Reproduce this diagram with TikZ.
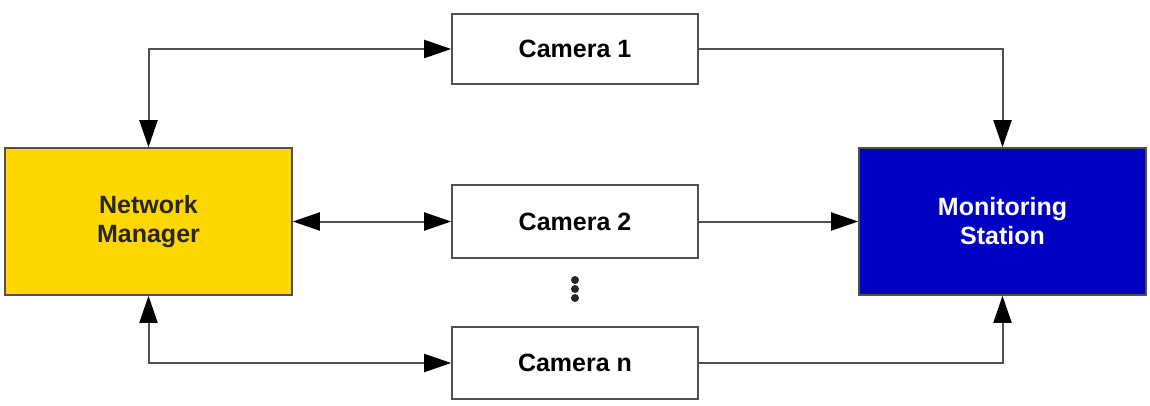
\documentclass[tikz,border=0pt]{standalone}
\usepackage{fontspec}
\setmainfont{Liberation Sans}
\usetikzlibrary{arrows.meta}
\definecolor{nmyellow}{HTML}{FFD700}
\definecolor{msblue}{HTML}{0000C4}
\definecolor{linegray}{HTML}{505050}
\tikzset{
  box/.style={draw=linegray, line width=1.6pt, minimum width=246pt, align=center,
    font=\fontsize{25}{29}\selectfont\bfseries, inner sep=0pt},
  bigbox/.style={draw=linegray, line width=1.6pt, minimum width=287pt, minimum height=147pt,
    align=center, font=\fontsize{25}{29}\selectfont\bfseries, inner sep=0pt},
  conn/.style={draw=linegray, line width=2pt,
    -{Triangle[length=27pt,width=18pt,color=black]}},
  dconn/.style={draw=linegray, line width=2pt,
    {Triangle[length=27pt,width=18pt,color=black]}-{Triangle[length=27pt,width=18pt,color=black]}},
  dotmark/.style={circle, fill=black!85, minimum size=8pt, inner sep=0pt}
}
\begin{document}
\begin{tikzpicture}[x=1pt,y=-1pt]
\useasboundingbox (0,0) rectangle (1150,405);
\node[bigbox, fill=nmyellow, text=black!85] (nm) at (148.5,221.5) {Network\\Manager};
\node[bigbox, fill=msblue, text=white] (ms) at (1002.5,221.5) {Monitoring\\Station};
\node[box, minimum height=70pt] (c1) at (575,49) {Camera 1};
\node[box, minimum height=73pt] (c2) at (575,221.5) {Camera 2};
\node[box, minimum height=72pt] (cn) at (575,363) {Camera n};
\node[dotmark] (d1) at (575,280) {};
\node[dotmark] (d2) at (575,289) {};
\node[dotmark] (d3) at (575,298) {};
\draw[dconn] (nm.north) |- (c1.west);
\draw[conn] (c1.east) -| (ms.north);
\draw[dconn] (nm.east) -- (c2.west);
\draw[conn] (c2.east) -- (ms.west);
\draw[dconn] (nm.south) |- (cn.west);
\draw[conn] (cn.east) -| (ms.south);
\end{tikzpicture}
\end{document}
